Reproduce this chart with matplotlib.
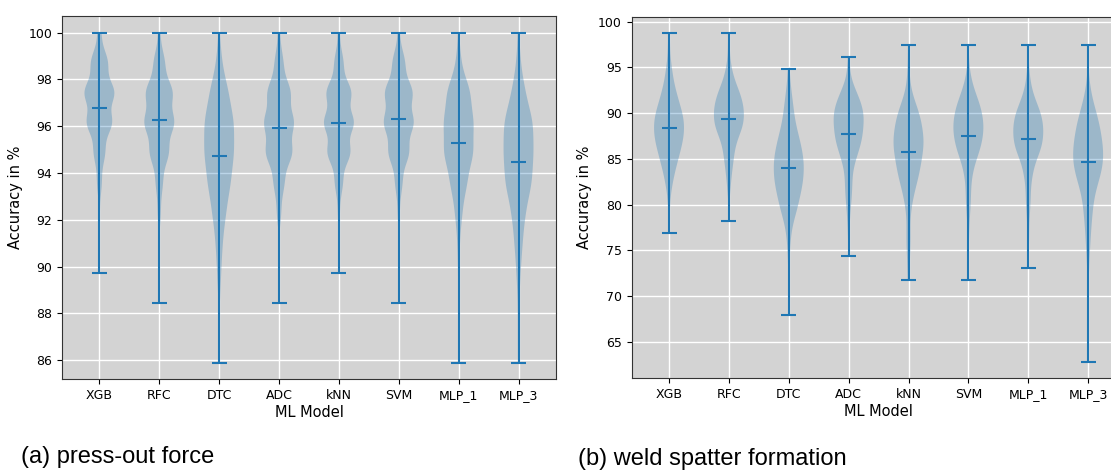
import numpy as np
import matplotlib.pyplot as plt

n_test = 78  # samples in test set -> accuracy steps of 1/78
models = ["XGB", "RFC", "DTC", "ADC", "kNN", "SVM", "MLP_1", "MLP_3"]

# frequency of "number of correct predictions" per model
# (a) press-out force
press_out = [
    {78: 4, 77: 18, 76: 32, 75: 27, 74: 12, 73: 5, 72: 1, 70: 1},                       # XGB
    {78: 2, 77: 11, 76: 27, 75: 30, 74: 19, 73: 7, 72: 3, 69: 1},                       # RFC
    {78: 1, 77: 4, 76: 14, 75: 22, 74: 22, 73: 17, 72: 10, 71: 5, 70: 3, 69: 1, 67: 1},  # DTC
    {78: 2, 77: 8, 76: 22, 75: 28, 74: 25, 73: 10, 72: 4, 69: 1},                       # ADC
    {78: 2, 77: 9, 76: 25, 75: 30, 74: 23, 73: 8, 72: 2, 70: 1},                        # kNN
    {78: 2, 77: 12, 76: 27, 75: 29, 74: 20, 73: 7, 72: 2, 69: 1},                       # SVM
    {78: 1, 77: 4, 76: 20, 75: 25, 74: 25, 73: 14, 72: 6, 71: 2, 70: 1, 69: 1, 67: 1},  # MLP_1
    {78: 1, 77: 3, 76: 10, 75: 22, 74: 22, 73: 20, 72: 10, 71: 6, 70: 3, 69: 1, 68: 1, 67: 1},  # MLP_3
]

# (b) weld spatter formation
spatter = [
    {60: 1, 62: 1, 63: 1, 64: 3, 65: 5, 66: 8, 67: 11, 68: 14, 69: 15, 70: 14, 71: 10,
     72: 7, 73: 4, 74: 3, 75: 1, 76: 1, 77: 1},                                          # XGB
    {61: 1, 63: 1, 64: 2, 65: 3, 66: 5, 67: 6, 68: 9, 69: 16, 70: 17, 71: 16, 72: 12,
     73: 6, 74: 3, 75: 1, 76: 1, 77: 1},                                                 # RFC
    {53: 1, 56: 1, 58: 1, 59: 1, 60: 2, 61: 3, 62: 8, 63: 8, 64: 12, 65: 12, 66: 13,
     67: 11, 68: 9, 69: 6, 70: 4, 71: 4, 72: 2, 73: 1, 74: 1},                           # DTC
    {58: 1, 60: 1, 61: 1, 62: 2, 63: 3, 64: 4, 65: 3, 66: 6, 67: 10, 68: 14, 69: 14,
     70: 16, 71: 13, 72: 8, 73: 2, 74: 1, 75: 1},                                        # ADC
    {56: 1, 57: 1, 58: 1, 59: 2, 60: 2, 61: 1, 62: 2, 63: 4, 64: 6, 65: 10, 66: 10,
     67: 13, 68: 14, 69: 11, 70: 11, 71: 6, 72: 2, 73: 1, 74: 1, 76: 1},                 # kNN
    {56: 1, 58: 1, 60: 1, 61: 1, 62: 2, 63: 3, 64: 2, 65: 4, 66: 6, 67: 12, 68: 14,
     69: 16, 70: 14, 71: 12, 72: 6, 73: 3, 74: 1, 76: 1},                                # SVM
    {57: 1, 59: 1, 60: 1, 61: 1, 62: 2, 63: 3, 64: 2, 65: 5, 66: 6, 67: 14, 68: 16,
     69: 16, 70: 15, 71: 9, 72: 4, 73: 2, 74: 1, 76: 1},                                 # MLP_1
    {49: 1, 55: 1, 57: 1, 58: 1, 59: 2, 60: 2, 61: 3, 62: 4, 63: 4, 64: 7, 65: 11,
     66: 13, 67: 13, 68: 11, 69: 10, 70: 8, 71: 4, 72: 2, 73: 1, 76: 1},                 # MLP_3
]


def to_acc(freq):
    k = np.array(list(freq.keys()))
    n = np.array(list(freq.values()))
    return np.repeat(k, n) / n_test * 100


def panel(ax, data):
    ax.set_facecolor('lightgrey')
    ax.grid(True, color='white', lw=1)
    ax.set_axisbelow(True)
    ax.violinplot([to_acc(d) for d in data], showmeans=True, bw_method=0.3)
    ax.set_xticks(range(1, len(models) + 1))
    ax.set_xticklabels(models)
    ax.set_xlabel('ML Model', fontsize=10.5, labelpad=2)
    ax.set_ylabel('Accuracy in %', fontsize=10.5)
    ax.tick_params(labelsize=9)
    for s in ax.spines.values():
        s.set_color('#333333')


fig = plt.figure(figsize=(11.11, 4.71), dpi=100)
ax1 = fig.add_axes([0.0558, 0.195, 0.4446, 0.771])
ax2 = fig.add_axes([0.5685, 0.197, 0.4446, 0.767])
panel(ax1, press_out)
panel(ax2, spatter)

fig.text(0.019, 0.030, '(a) press-out force', fontsize=17, va='center', family='Liberation Sans')
fig.text(0.520, 0.026, '(b) weld spatter formation', fontsize=17, va='center', family='Liberation Sans')

fig.savefig('out.png', dpi=100)
